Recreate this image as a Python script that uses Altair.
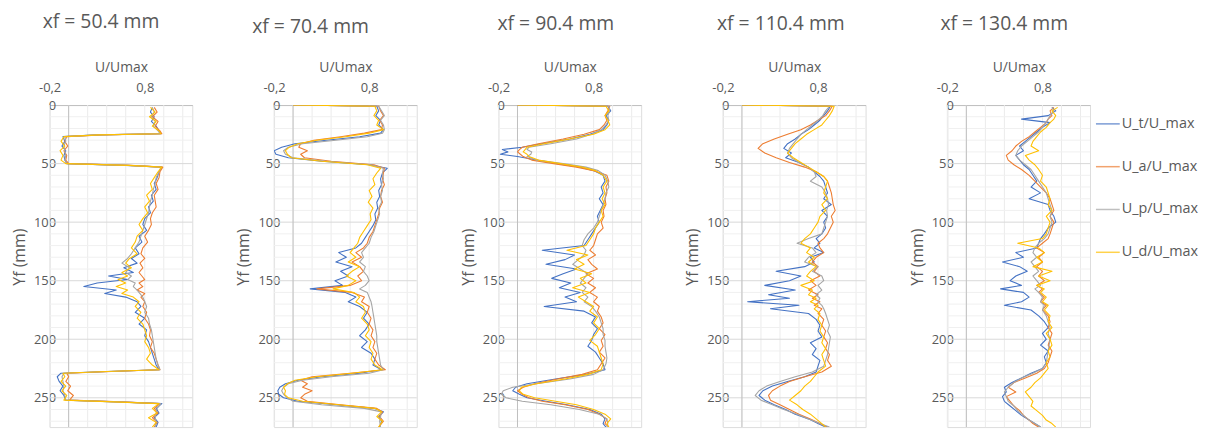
import altair as alt
import pandas as pd

SERIES = ["U_t/U_max", "U_a/U_max", "U_p/U_max", "U_d/U_max"]
COLORS = ["#4472C4", "#ED7D31", "#A5A5A5", "#FFC000"]
TITLES = ["xf = 50.4 mm", "xf = 70.4 mm", "xf = 90.4 mm", "xf = 110.4 mm", "xf = 130.4 mm"]
X_LABELS = [-0.2, 0.8]
Y_LABELS = [0, 50, 100, 150, 200, 250]
GRID_X = [-0.2, 0.0, 0.2, 0.4, 0.6, 0.8, 1.0, 1.2]
GRID_Y_MINOR = [10, 20, 30, 40, 60, 70, 80, 90, 110, 120, 130, 140, 160, 170, 180, 190,
                210, 220, 230, 240, 260, 270]
GRID_Y_MAJOR = [50, 100, 150, 200, 250]
ZERO_X = [0.0]

# ---------------- panel 1 : xf = 50.4 mm ----------------
P1_Y = [2, 6, 10, 14, 18, 22, 24.5, 25.5, 27, 31, 35, 39, 43, 47, 50, 51.5, 53, 57, 62, 67, 72, 77,
        82, 87, 92, 97, 102, 107, 112, 117, 122, 127, 131, 135, 139, 143, 146, 149, 152, 155, 158,
        161, 164, 168, 172, 177, 182, 187, 192, 197, 202, 207, 212, 217, 222, 226, 227.5, 229, 232,
        236, 240, 244, 248, 252, 253.5, 255, 259, 263, 267, 271, 275]
P1_T = [0.88, 0.86, 0.90, 0.87, 0.92, 0.95, 0.97, 0.30, -0.06, -0.04,
        -0.07, -0.03, -0.05, -0.04, -0.02, 0.60, 0.98, 0.95, 0.93, 0.90,
        0.92, 0.87, 0.89, 0.84, 0.86, 0.80, 0.78, 0.82, 0.74, 0.77,
        0.70, 0.74, 0.66, 0.72, 0.58, 0.68, 0.42, 0.62, 0.30, 0.16,
        0.50, 0.38, 0.60, 0.72, 0.76, 0.70, 0.80, 0.74, 0.82, 0.80,
        0.84, 0.86, 0.88, 0.90, 0.92, 0.95, 0.40, -0.08, -0.12, -0.10,
        -0.06, -0.09, -0.05, -0.03, 0.50, 0.98, 0.92, 0.95, 0.90, 0.94,
        0.92]
P1_A = [0.90, 0.93, 0.88, 0.94, 0.91, 0.96, 0.98, 0.35, -0.02, -0.04,
        -0.01, -0.05, -0.02, -0.03, 0.00, 0.65, 0.99, 0.96, 0.95, 0.92,
        0.94, 0.90, 0.91, 0.92, 0.88, 0.86, 0.87, 0.84, 0.80, 0.83,
        0.78, 0.76, 0.80, 0.75, 0.78, 0.74, 0.77, 0.80, 0.74, 0.78,
        0.72, 0.80, 0.76, 0.80, 0.78, 0.82, 0.80, 0.84, 0.86, 0.85,
        0.88, 0.86, 0.90, 0.92, 0.94, 0.96, 0.45, -0.02, 0.00, -0.03,
        0.02, -0.01, 0.05, 0.01, 0.55, 0.96, 0.90, 0.94, 0.88, 0.93,
        0.90]
P1_P = [0.88, 0.90, 0.87, 0.91, 0.89, 0.94, 0.96, 0.30, -0.04, -0.03,
        -0.05, -0.04, -0.03, -0.04, -0.02, 0.62, 0.97, 0.95, 0.92, 0.91,
        0.89, 0.88, 0.86, 0.85, 0.84, 0.82, 0.80, 0.78, 0.76, 0.74,
        0.70, 0.66, 0.62, 0.56, 0.64, 0.60, 0.66, 0.62, 0.70, 0.68,
        0.72, 0.75, 0.78, 0.80, 0.82, 0.80, 0.84, 0.85, 0.87, 0.88,
        0.89, 0.90, 0.91, 0.92, 0.94, 0.96, 0.42, -0.05, -0.07, -0.06,
        -0.05, -0.06, -0.04, -0.03, 0.52, 0.97, 0.93, 0.92, 0.91, 0.92,
        0.91]
P1_D = [0.86, 0.91, 0.85, 0.92, 0.88, 0.95, 0.97, 0.32, -0.05, -0.08,
        -0.04, -0.09, -0.06, -0.08, -0.03, 0.63, 0.98, 0.94, 0.90, 0.86,
        0.88, 0.82, 0.85, 0.80, 0.83, 0.78, 0.74, 0.78, 0.72, 0.70,
        0.66, 0.72, 0.64, 0.60, 0.66, 0.56, 0.62, 0.52, 0.60, 0.50,
        0.62, 0.56, 0.68, 0.74, 0.70, 0.76, 0.72, 0.78, 0.80, 0.82,
        0.80, 0.84, 0.86, 0.82, 0.88, 0.95, 0.40, -0.06, -0.04, -0.08,
        -0.03, -0.07, -0.02, -0.05, 0.48, 0.95, 0.88, 0.93, 0.84, 0.92,
        0.88]

# ---------------- panel 2 : xf = 70.4 mm ----------------
P2_Y = [0, 1, 5, 9, 13, 17, 21, 24, 27, 30, 33, 36, 39, 42, 45, 48, 51, 54, 58, 63, 68, 73, 78, 83,
        88, 93, 98, 103, 108, 113, 118, 122, 126, 130, 134, 138, 142, 146, 150, 154, 157, 160, 164,
        168, 172, 177, 182, 187, 192, 197, 202, 207, 212, 217, 222, 226, 229, 232, 235, 238, 241,
        244, 247, 250, 253, 256, 259, 262, 266, 270, 275]
P2_T = [0, 0.88, 0.90, 0.87, 0.92, 0.90, 0.95, 0.92, 0.70, 0.35,
        0.02, -0.12, -0.20, -0.18, -0.05, 0.30, 0.80, 0.99, 0.94, 0.92,
        0.93, 0.90, 0.91, 0.88, 0.89, 0.86, 0.87, 0.84, 0.80, 0.76,
        0.72, 0.66, 0.48, 0.56, 0.45, 0.62, 0.50, 0.58, 0.44, 0.52,
        0.18, 0.55, 0.66, 0.58, 0.70, 0.78, 0.74, 0.80, 0.76, 0.70,
        0.78, 0.72, 0.82, 0.86, 0.84, 0.93, 0.70, 0.30, 0.05, -0.08,
        -0.14, -0.16, -0.15, -0.10, 0.05, 0.45, 0.85, 0.95, 0.90, 0.93,
        0.91]
P2_A = [0, 0.90, 0.92, 0.95, 0.91, 0.94, 0.93, 0.75, 0.50, 0.22,
        0.08, 0.06, 0.15, 0.08, 0.12, 0.40, 0.85, 0.96, 0.95, 0.94,
        0.96, 0.93, 0.92, 0.94, 0.91, 0.90, 0.88, 0.86, 0.84, 0.80,
        0.78, 0.74, 0.66, 0.72, 0.62, 0.70, 0.74, 0.68, 0.72, 0.60,
        0.25, 0.62, 0.75, 0.72, 0.80, 0.78, 0.82, 0.80, 0.84, 0.82,
        0.86, 0.84, 0.88, 0.86, 0.90, 0.97, 0.60, 0.20, 0.08, 0.15,
        0.10, 0.20, 0.12, 0.08, 0.15, 0.50, 0.88, 0.94, 0.91, 0.95,
        0.90]
P2_P = [0, 0.90, 0.93, 0.96, 0.92, 0.95, 0.96, 0.94, 0.78, 0.45,
        0.10, -0.05, -0.10, -0.08, 0.00, 0.35, 0.82, 0.95, 0.94, 0.95,
        0.93, 0.94, 0.92, 0.93, 0.90, 0.91, 0.89, 0.87, 0.85, 0.82,
        0.80, 0.76, 0.72, 0.74, 0.70, 0.76, 0.74, 0.78, 0.80, 0.76,
        0.70, 0.78, 0.80, 0.82, 0.83, 0.84, 0.85, 0.86, 0.87, 0.88,
        0.88, 0.89, 0.90, 0.91, 0.92, 0.95, 0.80, 0.40, 0.10, -0.05,
        -0.10, -0.12, -0.10, -0.06, 0.00, 0.30, 0.75, 0.93, 0.92, 0.91,
        0.92]
P2_D = [0, 0.86, 0.88, 0.85, 0.90, 0.88, 0.95, 0.80, 0.55, 0.25,
        0.05, -0.04, -0.08, -0.06, -0.02, 0.30, 0.78, 0.92, 0.88, 0.84,
        0.86, 0.80, 0.83, 0.79, 0.84, 0.81, 0.82, 0.78, 0.74, 0.70,
        0.68, 0.64, 0.60, 0.66, 0.58, 0.70, 0.62, 0.56, 0.66, 0.58,
        0.42, 0.64, 0.70, 0.66, 0.74, 0.76, 0.72, 0.78, 0.80, 0.76,
        0.82, 0.80, 0.84, 0.82, 0.86, 0.94, 0.62, 0.25, 0.02, -0.06,
        -0.10, -0.08, -0.09, -0.05, 0.10, 0.48, 0.86, 0.93, 0.88, 0.94,
        0.90]

# ---------------- panel 3 : xf = 90.4 mm ----------------
P3_Y = [0, 1, 5, 9, 13, 17, 21, 25, 29, 33, 36, 38, 40, 42, 44, 47, 50, 53, 56, 60, 65, 70, 75, 80,
        85, 90, 95, 100, 105, 110, 115, 120, 124, 128, 132, 136, 140, 144, 148, 152, 156, 160, 164,
        168, 172, 176, 181, 186, 191, 196, 201, 206, 211, 216, 221, 226, 230, 234, 238, 241, 244,
        247, 250, 253, 256, 260, 264, 268, 272, 275]
P3_T = [0, 0.95, 0.98, 0.93, 0.96, 0.94, 0.90, 0.76, 0.55, 0.25,
        0.05, -0.16, -0.10, -0.18, 0.00, 0.20, 0.42, 0.66, 0.80, 0.90,
        0.92, 0.88, 0.90, 0.86, 0.90, 0.87, 0.84, 0.86, 0.82, 0.78,
        0.74, 0.70, 0.26, 0.60, 0.50, 0.30, 0.62, 0.48, 0.36, 0.56,
        0.44, 0.66, 0.50, 0.62, 0.28, 0.70, 0.82, 0.78, 0.84, 0.80,
        0.78, 0.74, 0.82, 0.86, 0.90, 0.92, 0.72, 0.40, 0.10, -0.02,
        -0.05, 0.02, 0.10, 0.30, 0.52, 0.76, 0.88, 0.92, 0.90, 0.93]
P3_A = [0, 0.97, 0.95, 0.92, 0.94, 0.91, 0.86, 0.70, 0.48, 0.22,
        0.05, 0.02, 0.00, 0.03, 0.06, 0.15, 0.38, 0.62, 0.80, 0.94,
        0.96, 0.93, 0.94, 0.92, 0.93, 0.90, 0.91, 0.88, 0.90, 0.84,
        0.82, 0.80, 0.76, 0.82, 0.74, 0.78, 0.84, 0.72, 0.80, 0.74,
        0.82, 0.76, 0.84, 0.80, 0.86, 0.84, 0.88, 0.90, 0.86, 0.92,
        0.88, 0.90, 0.86, 0.92, 0.88, 0.84, 0.68, 0.42, 0.18, 0.06,
        0.00, 0.05, 0.12, 0.26, 0.50, 0.74, 0.86, 0.94, 0.92, 0.96]
P3_P = [0, 0.96, 0.97, 0.95, 0.96, 0.93, 0.88, 0.78, 0.62, 0.35,
        0.12, 0.10, 0.15, 0.14, 0.10, 0.20, 0.48, 0.72, 0.85, 0.92,
        0.95, 0.96, 0.93, 0.92, 0.90, 0.88, 0.86, 0.84, 0.80, 0.74,
        0.70, 0.68, 0.72, 0.70, 0.64, 0.58, 0.66, 0.74, 0.70, 0.66,
        0.72, 0.68, 0.74, 0.70, 0.78, 0.82, 0.86, 0.88, 0.90, 0.90,
        0.92, 0.92, 0.93, 0.94, 0.93, 0.90, 0.80, 0.55, 0.20, -0.05,
        -0.15, -0.17, -0.12, 0.05, 0.35, 0.65, 0.86, 0.94, 0.95, 0.94]
P3_D = [0, 0.93, 0.96, 0.92, 0.95, 0.97, 0.92, 0.80, 0.55, 0.28,
        0.10, 0.08, 0.06, 0.10, 0.12, 0.22, 0.45, 0.68, 0.82, 0.90,
        0.94, 0.90, 0.92, 0.89, 0.92, 0.88, 0.90, 0.86, 0.82, 0.80,
        0.76, 0.72, 0.52, 0.74, 0.62, 0.70, 0.60, 0.78, 0.66, 0.72,
        0.58, 0.76, 0.64, 0.72, 0.80, 0.76, 0.84, 0.80, 0.86, 0.82,
        0.76, 0.84, 0.86, 0.88, 0.90, 0.88, 0.74, 0.50, 0.20, 0.04,
        0.02, 0.06, 0.18, 0.40, 0.62, 0.80, 0.92, 0.98, 0.94, 0.96]

# ---------------- panel 4 : xf = 110.4 mm ----------------
P4_Y = [0, 1, 5, 9, 13, 17, 21, 25, 29, 33, 37, 41, 45, 49, 53, 57, 61, 65, 70, 75, 80, 85, 90, 95,
        100, 105, 110, 114, 118, 122, 126, 130, 134, 138, 142, 146, 150, 154, 158, 162, 165, 168,
        171, 174, 178, 183, 188, 193, 198, 203, 208, 213, 218, 223, 228, 232, 236, 240, 244, 248,
        252, 256, 260, 264, 268, 272, 275]
P4_T = [0, 0.93, 0.90, 0.86, 0.82, 0.76, 0.70, 0.62, 0.56, 0.48,
        0.44, 0.52, 0.46, 0.60, 0.70, 0.76, 0.82, 0.86, 0.88, 0.90,
        0.86, 0.94, 0.84, 0.90, 0.86, 0.88, 0.84, 0.78, 0.82, 0.76,
        0.86, 0.72, 0.76, 0.66, 0.36, 0.62, 0.50, 0.24, 0.56, 0.28,
        0.50, 0.06, 0.60, 0.30, 0.70, 0.78, 0.82, 0.80, 0.84, 0.72,
        0.78, 0.74, 0.82, 0.80, 0.78, 0.66, 0.48, 0.32, 0.22, 0.18,
        0.24, 0.34, 0.46, 0.56, 0.70, 0.80, 0.88]
P4_A = [0, 0.95, 0.92, 0.88, 0.80, 0.72, 0.62, 0.48, 0.34, 0.22,
        0.17, 0.24, 0.36, 0.50, 0.66, 0.78, 0.86, 0.90, 0.92, 0.94,
        0.95, 0.96, 0.98, 0.94, 0.96, 0.93, 0.90, 0.86, 0.80, 0.82,
        0.86, 0.78, 0.74, 0.80, 0.76, 0.82, 0.72, 0.78, 0.70, 0.80,
        0.74, 0.82, 0.76, 0.84, 0.80, 0.86, 0.84, 0.88, 0.86, 0.90,
        0.88, 0.92, 0.90, 0.94, 0.84, 0.66, 0.50, 0.40, 0.32, 0.28,
        0.30, 0.40, 0.50, 0.60, 0.72, 0.82, 0.90]
P4_P = [0, 0.92, 0.88, 0.85, 0.80, 0.74, 0.68, 0.62, 0.58, 0.54,
        0.50, 0.48, 0.52, 0.60, 0.70, 0.76, 0.78, 0.72, 0.84, 0.88,
        0.90, 0.91, 0.89, 0.90, 0.88, 0.86, 0.84, 0.70, 0.58, 0.74,
        0.78, 0.70, 0.66, 0.80, 0.74, 0.84, 0.86, 0.80, 0.84, 0.78,
        0.82, 0.80, 0.84, 0.86, 0.88, 0.90, 0.92, 0.90, 0.93, 0.92,
        0.91, 0.90, 0.88, 0.86, 0.74, 0.56, 0.40, 0.26, 0.18, 0.14,
        0.20, 0.32, 0.44, 0.58, 0.70, 0.82, 0.92]
P4_D = [0, 0.97, 0.95, 0.92, 0.88, 0.84, 0.76, 0.68, 0.62, 0.56,
        0.52, 0.48, 0.54, 0.62, 0.70, 0.78, 0.86, 0.90, 0.88, 0.86,
        0.90, 0.84, 0.88, 0.82, 0.80, 0.76, 0.72, 0.66, 0.62, 0.72,
        0.68, 0.76, 0.70, 0.78, 0.72, 0.68, 0.76, 0.62, 0.74, 0.70,
        0.78, 0.72, 0.80, 0.76, 0.82, 0.80, 0.84, 0.82, 0.86, 0.84,
        0.88, 0.84, 0.86, 0.88, 0.80, 0.76, 0.72, 0.66, 0.62, 0.56,
        0.50, 0.58, 0.64, 0.72, 0.78, 0.84, 0.88]

# ---------------- panel 5 : xf = 130.4 mm ----------------
P5_Y = [2, 5, 9, 12, 15, 19, 23, 27, 31, 35, 39, 43, 47, 51, 55, 60, 65, 70, 75, 80, 85, 90, 95, 100,
        105, 110, 114, 118, 122, 126, 130, 134, 138, 142, 146, 150, 154, 157, 160, 164, 168, 171,
        175, 180, 185, 190, 195, 200, 205, 210, 215, 220, 225, 229, 233, 237, 241, 245, 249, 253,
        257, 261, 265, 269, 272, 275]
P5_T = [0.90, 0.94, 0.86, 0.58, 0.88, 0.80, 0.74, 0.68, 0.62, 0.56,
        0.60, 0.52, 0.56, 0.60, 0.66, 0.70, 0.74, 0.68, 0.78, 0.66,
        0.86, 0.88, 0.92, 0.94, 0.86, 0.82, 0.78, 0.76, 0.74, 0.52,
        0.60, 0.38, 0.56, 0.64, 0.52, 0.46, 0.58, 0.36, 0.60, 0.66,
        0.58, 0.40, 0.68, 0.76, 0.82, 0.86, 0.80, 0.84, 0.78, 0.86,
        0.82, 0.84, 0.80, 0.68, 0.58, 0.48, 0.40, 0.42, 0.38, 0.40,
        0.46, 0.52, 0.58, 0.66, 0.72, 0.78]
P5_A = [0.92, 0.88, 0.90, 0.86, 0.84, 0.78, 0.72, 0.66, 0.58, 0.52,
        0.48, 0.42, 0.44, 0.50, 0.58, 0.66, 0.72, 0.78, 0.84, 0.88,
        0.90, 0.92, 0.88, 0.92, 0.90, 0.88, 0.86, 0.80, 0.74, 0.82,
        0.76, 0.80, 0.74, 0.80, 0.76, 0.82, 0.74, 0.80, 0.76, 0.82,
        0.78, 0.84, 0.80, 0.86, 0.88, 0.86, 0.90, 0.88, 0.86, 0.90,
        0.88, 0.86, 0.82, 0.74, 0.62, 0.50, 0.44, 0.52, 0.42, 0.46,
        0.50, 0.56, 0.60, 0.66, 0.70, 0.76]
P5_P = [0.90, 0.92, 0.88, 0.86, 0.84, 0.80, 0.76, 0.70, 0.64, 0.58,
        0.54, 0.52, 0.56, 0.62, 0.68, 0.72, 0.76, 0.80, 0.84, 0.86,
        0.88, 0.90, 0.88, 0.90, 0.88, 0.86, 0.82, 0.76, 0.72, 0.70,
        0.74, 0.68, 0.72, 0.76, 0.70, 0.74, 0.78, 0.72, 0.76, 0.80,
        0.78, 0.82, 0.80, 0.84, 0.86, 0.88, 0.86, 0.88, 0.87, 0.86,
        0.85, 0.84, 0.80, 0.70, 0.58, 0.50, 0.44, 0.40, 0.42, 0.44,
        0.50, 0.54, 0.60, 0.66, 0.72, 0.78]
P5_D = [0.96, 0.90, 0.94, 0.92, 0.88, 0.84, 0.78, 0.74, 0.70, 0.68,
        0.76, 0.62, 0.66, 0.72, 0.76, 0.80, 0.78, 0.84, 0.86, 0.88,
        0.86, 0.90, 0.84, 0.88, 0.86, 0.84, 0.80, 0.54, 0.76, 0.82,
        0.74, 0.80, 0.70, 0.90, 0.76, 0.88, 0.74, 0.82, 0.78, 0.84,
        0.80, 0.86, 0.82, 0.88, 0.86, 0.90, 0.84, 0.88, 0.90, 0.86,
        0.88, 0.84, 0.86, 0.82, 0.78, 0.72, 0.68, 0.62, 0.66, 0.70,
        0.68, 0.74, 0.80, 0.84, 0.90, 0.94]

PANELS = [
    (P1_Y, [P1_T, P1_A, P1_P, P1_D]),
    (P2_Y, [P2_T, P2_A, P2_P, P2_D]),
    (P3_Y, [P3_T, P3_A, P3_P, P3_D]),
    (P4_Y, [P4_T, P4_A, P4_P, P4_D]),
    (P5_Y, [P5_T, P5_A, P5_P, P5_D]),
]

TITLE_DX = [-7, -22, -1, -6, -7]
TITLE_DY = [0, 5, 2, 2, 2]

TEXT = "#595959"
FONT = "Open Sans"

xs = alt.Scale(domain=[-0.2, 1.3], nice=False, zero=False)
ys = alt.Scale(domain=[0, 275], reverse=True, nice=False, zero=False)
cs = alt.Scale(domain=SERIES, range=COLORS)

AX_X = alt.Axis(
    orient="top", values=X_LABELS, title="U/Umax",
    labelExpr="replace(replace(format(datum.value, '.1f'), '.', ','), '\u2212', '-')",
    ticks=False, tickSize=0, labelPadding=11, titlePadding=7, grid=False,
    domain=True, domainColor="#BFBFBF", labelFontSize=13, titleFontSize=14,
    labelColor=TEXT, titleColor=TEXT, labelFont=FONT, titleFont=FONT,
    titleFontWeight="normal", minExtent=0, labelFlush=False)
AX_Y = alt.Axis(
    orient="left", values=Y_LABELS, title="Yf (mm)", ticks=False, tickSize=0,
    labelPadding=2, offset=-8, titlePadding=6, grid=False, domain=False,
    labelFontSize=13, titleFontSize=16, labelColor=TEXT, titleColor=TEXT,
    labelFont=FONT, titleFont=FONT, titleFontWeight="normal", minExtent=0,
    labelFlush=False, labelBaseline="middle", titleY=153)

legend = alt.Legend(title=None, orient="none", legendX=149, legendY=6, symbolType="stroke",
                    symbolSize=576, symbolStrokeWidth=1.5, symbolOpacity=0.7,
                    labelFontSize=14.5, labelColor=TEXT, labelFont=FONT, rowPadding=23.2,
                    labelOffset=1, padding=0)


def make_panel(i):
    yv, vals = PANELS[i]
    layers = []
    vgrid = alt.Chart(pd.DataFrame({"u": GRID_X})).mark_rule(color="#EBEBEB", strokeWidth=1).encode(
        x=alt.X("u:Q", scale=xs, axis=AX_X))
    hmin = alt.Chart(pd.DataFrame({"y": GRID_Y_MINOR})).mark_rule(color="#F0F0F0", strokeWidth=1).encode(
        y=alt.Y("y:Q", scale=ys, axis=AX_Y))
    hmaj = alt.Chart(pd.DataFrame({"y": GRID_Y_MAJOR})).mark_rule(color="#D9D9D9", strokeWidth=1).encode(
        y=alt.Y("y:Q", scale=ys, axis=AX_Y))
    zero = alt.Chart(pd.DataFrame({"u": ZERO_X})).mark_rule(color="#BFBFBF", strokeWidth=1).encode(
        x=alt.X("u:Q", scale=xs, axis=AX_X))
    layers += [vgrid, hmin, hmaj, zero]
    for s, v in zip(SERIES, vals):
        assert len(v) == len(yv), (i, s, len(v), len(yv))
        d = pd.DataFrame({"y": yv, "u": v, "series": s, "idx": list(range(len(yv)))})
        line = alt.Chart(d).mark_line(strokeWidth=1.1, strokeJoin="round", clip=True).encode(
            x=alt.X("u:Q", scale=xs, axis=AX_X),
            y=alt.Y("y:Q", scale=ys, axis=AX_Y),
            color=alt.Color("series:N", scale=cs, legend=legend if i == 4 else None),
            order=alt.Order("idx:Q"),
        )
        layers.append(line)
    return alt.layer(*layers).properties(
        width=144, height=325,
        title=alt.TitleParams(TITLES[i], anchor="start", frame="group", dx=TITLE_DX[i],
                              dy=TITLE_DY[i], fontSize=19.5, font=FONT, color=TEXT,
                              fontWeight="normal", offset=28))


chart = alt.hconcat(*[make_panel(i) for i in range(5)], spacing=42.5).resolve_scale(
    color="independent"
).properties(
    padding={"left": 3, "top": 2, "right": 0, "bottom": 0}
).configure_view(stroke=None).configure(background="white")

chart.save("out.html", embed_options={"renderer": "svg", "actions": False})
